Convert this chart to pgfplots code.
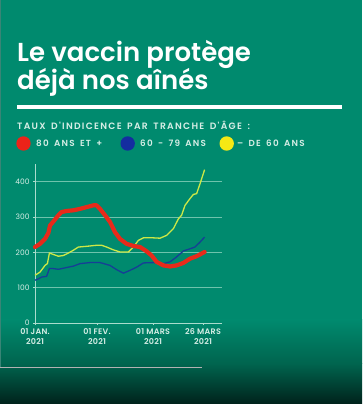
\documentclass[border=0pt]{standalone}
\usepackage{pgfplots}
\pgfplotsset{compat=1.18}
\usepackage{fontspec}
\setmainfont{Poppins}[BoldFont={* SemiBold}]
\newfontfamily\capsfont[LetterSpace=14, WordSpace=1.6]{Poppins}[BoldFont={* SemiBold}]
\newfontfamily\tickfont[LetterSpace=3]{Poppins}[BoldFont={* SemiBold}]
\definecolor{bg}{RGB}{0,138,110}
\definecolor{bgmid}{RGB}{0,100,78}
\definecolor{bgdark}{RGB}{0,34,27}
\definecolor{redl}{RGB}{232,42,26}
\definecolor{bluel}{RGB}{22,62,150}
\definecolor{yell}{RGB}{205,232,70}
\definecolor{dotr}{RGB}{235,35,25}
\definecolor{dotb}{RGB}{20,45,160}
\definecolor{doty}{RGB}{245,232,20}
\definecolor{gridc}{RGB}{110,195,172}
\definecolor{axisc}{RGB}{170,220,205}
\definecolor{labc}{RGB}{215,238,230}
\begin{document}
\begin{tikzpicture}[x=1pt,y=1pt]
\fill[bg] (0,0) rectangle (362,404);
\path[use as bounding box] (0,0) rectangle (362,404);
\shade[top color=bg, bottom color=bgmid] (0,40) rectangle (362,84);
\shade[top color=bgmid, bottom color=bgdark] (0,0) rectangle (362,40.2);
\draw[gray!45!bg, line width=1] (0.8,37) -- (0.8,404);
\draw[gray!60, line width=0.8] (0,37) -- (202,37);
% title
\node[anchor=base west, inner sep=0, text=white, font=\fontsize{26}{30}\selectfont\bfseries] at (17,342) {Le vaccin protège};
\node[anchor=base west, inner sep=0, text=white, font=\fontsize{26}{30}\selectfont\bfseries] at (17,314) {déjà nos aînés};
\draw[white, line width=3.5] (17,297) -- (342,297);
\node[anchor=base west, inner sep=0, text=labc, font=\capsfont\fontsize{9.2}{10}\selectfont\bfseries] at (17,274.7) {TAUX D'INDICENCE PAR TRANCHE D'ÂGE :};
% legend
\fill[dotr] (23.5,260.5) circle (7.2);
\fill[dotb] (127.7,260.5) circle (7.2);
\fill[doty] (226.7,260.5) circle (7.2);
\node[anchor=base west, inner sep=0, text=labc, font=\capsfont\fontsize{8.8}{10}\selectfont\bfseries] at (36,257.3) {80 ANS ET +};
\node[anchor=base west, inner sep=0, text=labc, font=\capsfont\fontsize{8.8}{10}\selectfont\bfseries] at (140,257.3) {60 - 79 ANS};
\node[anchor=base west, inner sep=0, text=labc, font=\capsfont\fontsize{8.8}{10}\selectfont\bfseries] at (237,257.3) {– DE 60 ANS};
\begin{axis}[
  at={(35pt,81pt)}, anchor=south west,
  scale only axis, width=187pt, height=159pt,
  xmin=0, xmax=93.5, ymin=0, ymax=450,
  axis lines*=left,
  axis line style={axisc, line width=0.8},
  ymajorgrids, grid style={gridc, line width=0.8},
  ytick={0,100,200,300,400},
  xtick={0,31,59,84},
  xticklabels={{01 JAN.\\2021},{01 FEV.\\2021},{01 MARS\\2021},{26 MARS\\2021}},
  xticklabel style={align=center, text=labc, font=\tickfont\fontsize{8}{9.8}\selectfont\bfseries},
  yticklabel style={text=labc, font=\fontsize{7.5}{9}\selectfont},
  /pgf/number format/assume math mode=true,
  tick style={axisc, line width=0.8},
  major tick length=2pt,
  tick align=outside,
  clip=false,
]
\addplot[bluel, line width=1.3] coordinates {
(0,121)(1.7,125)(3.3,130)(5.8,132)(7.2,154)(9.2,154)(11.7,152)(15.8,157)(19.2,161)(22.5,168)(27.5,171)(32.5,171)(37.5,163)(40.8,151)(44.2,141)(47.5,149)(50.8,158)(54.2,170)(59.2,171)(64.2,168)(67.5,173)(70.8,187)(74.2,204)(77.5,210)(80,215)(82.5,229)(84.8,243)};
\addplot[yell, line width=1.3] coordinates {
(0,135)(2.5,144)(5,163)(6.2,168)(7.2,198)(9.2,194)(11.7,189)(14.2,191)(16.7,198)(19.2,206)(21.7,215)(25.8,217)(30.8,220)(33.3,220)(35.8,215)(39.2,207)(42.5,201)(46.7,201)(49.2,215)(51.7,234)(54.2,241)(59.2,241)(62.5,240)(65.8,248)(69.2,267)(71.7,295)(73.3,305)(75,333)(77.5,352)(79.2,364)(80.8,366)(82.5,394)(84.8,434)};
\addplot[redl, line width=4.2, line join=round, line cap=round] coordinates {
(0,215)(2.5,224)(5,238)(6.7,255)(7.5,276)(9,286)(11.7,305)(13.3,314)(15.8,317)(19.2,319)(22.5,323)(25.8,328)(29.2,333)(30.8,333)(32.5,323)(35,305)(37.5,286)(40,257)(42.5,238)(45.8,224)(49.2,218)(52.5,215)(55.8,203)(58.3,191)(60.8,173)(64.2,163)(67.5,160)(70.8,163)(74.2,170)(77.5,182)(80.8,189)(84.8,201)};
\end{axis}
\end{tikzpicture}
\end{document}
